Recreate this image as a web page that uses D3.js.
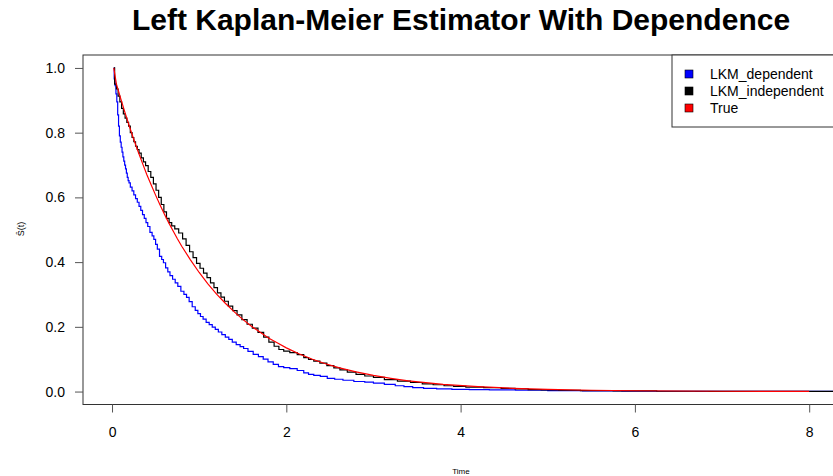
<!DOCTYPE html>
<html>
<head>
<meta charset="utf-8">
<script src="https://cdn.jsdelivr.net/npm/d3@7"></script>
<style>
  body { margin: 0; background: #fff; }
  svg { display: block; font-family: "Liberation Sans", Arial, sans-serif; }
</style>
</head>
<body>
<div id="chart"></div>
<script>
// values: [time, survival]
var lkmDependent = [
  [0.02,1.0],[0.03,0.966],[0.04,0.945],[0.05,0.92],[0.06,0.895],[0.07,0.855],[0.08,0.82],[0.09,0.79],
  [0.10,0.771],[0.11,0.755],[0.12,0.74],[0.13,0.725],[0.14,0.712],[0.15,0.70],[0.16,0.688],[0.17,0.675],
  [0.18,0.662],[0.19,0.652],[0.20,0.645],[0.22,0.632],[0.24,0.62],[0.26,0.608],[0.28,0.596],[0.30,0.585],
  [0.32,0.572],[0.34,0.56],[0.36,0.547],[0.38,0.535],[0.40,0.522],[0.42,0.51],[0.45,0.492],[0.47,0.481],
  [0.49,0.47],[0.51,0.455],[0.53,0.44],[0.56,0.418],[0.58,0.408],[0.60,0.398],[0.63,0.382],[0.65,0.37],
  [0.68,0.358],[0.71,0.347],[0.74,0.336],[0.77,0.325],[0.81,0.31],[0.84,0.30],[0.87,0.291],[0.90,0.278],
  [0.94,0.262],[0.97,0.251],[1.00,0.241],[1.03,0.232],[1.06,0.224],[1.10,0.214],[1.13,0.207],[1.17,0.199],
  [1.20,0.192],[1.24,0.184],[1.28,0.176],[1.32,0.168],[1.36,0.161],[1.40,0.153],[1.45,0.145],[1.49,0.139],
  [1.53,0.133],[1.59,0.124],[1.65,0.115],[1.71,0.108],[1.76,0.10],[1.82,0.092],[1.88,0.084],[1.94,0.077],
  [2.00,0.074],[2.08,0.071],[2.17,0.065],[2.23,0.058],[2.28,0.053],[2.35,0.05],[2.43,0.047],[2.51,0.041],
  [2.60,0.038],[2.70,0.035],[2.85,0.031],[2.95,0.029],[3.05,0.026],[3.20,0.022],[3.30,0.018],[3.40,0.015],
  [3.50,0.012],[3.65,0.01],[3.80,0.008],[4.00,0.007],[4.20,0.006],[4.46,0.005],[4.80,0.004],[5.20,0.003],
  [5.60,0.002],[6.10,0.001],[7.30,0.0005],[8.50,0.0005]
];

var lkmIndependent = [
  [0.02,1.0],[0.04,0.95],[0.06,0.935],[0.08,0.913],[0.10,0.895],[0.12,0.875],[0.14,0.858],[0.16,0.845],
  [0.18,0.832],[0.20,0.82],[0.22,0.80],[0.24,0.785],[0.26,0.772],[0.28,0.758],[0.30,0.748],[0.32,0.737],
  [0.35,0.722],[0.37,0.71],[0.40,0.698],[0.43,0.68],[0.46,0.662],[0.49,0.642],[0.52,0.622],[0.55,0.60],
  [0.58,0.578],[0.61,0.555],[0.64,0.535],[0.67,0.522],[0.70,0.512],[0.74,0.503],[0.79,0.49],[0.83,0.472],
  [0.87,0.452],[0.91,0.432],[0.95,0.414],[0.99,0.396],[1.03,0.381],[1.07,0.366],[1.11,0.352],[1.15,0.336],
  [1.19,0.321],[1.23,0.305],[1.27,0.292],[1.31,0.279],[1.36,0.264],[1.41,0.25],[1.46,0.237],[1.52,0.222],
  [1.58,0.208],[1.64,0.196],[1.71,0.183],[1.77,0.168],[1.83,0.153],[1.89,0.14],[1.94,0.13],[2.00,0.125],
  [2.08,0.12],[2.17,0.114],[2.23,0.105],[2.28,0.099],[2.35,0.094],[2.42,0.088],[2.51,0.08],[2.58,0.073],
  [2.65,0.067],[2.75,0.06],[2.85,0.053],[2.95,0.048],[3.05,0.044],[3.20,0.037],[3.35,0.032],[3.50,0.028],
  [3.62,0.024],[3.75,0.021],[3.87,0.018],[3.97,0.016],[4.15,0.014],[4.38,0.012],[4.55,0.01],[4.70,0.008],
  [4.85,0.006],[5.00,0.005],[5.25,0.004],[5.50,0.003],[6.00,0.002],[6.50,0.001],[7.20,0.0008],[8.00,0.0005],
  [8.50,0.0005]
];

var trueCurve = [
  [0.02,1.0],[0.05,0.951],[0.1,0.905],[0.15,0.861],[0.2,0.819],[0.25,0.779],[0.3,0.741],[0.35,0.705],
  [0.4,0.670],[0.45,0.638],[0.5,0.607],[0.55,0.577],[0.6,0.549],[0.65,0.522],[0.7,0.497],[0.75,0.472],
  [0.8,0.449],[0.9,0.407],[1.0,0.368],[1.1,0.333],[1.2,0.301],[1.3,0.273],[1.4,0.247],[1.5,0.223],
  [1.6,0.202],[1.7,0.183],[1.8,0.165],[1.9,0.150],[2.0,0.135],[2.15,0.116],[2.3,0.100],[2.45,0.086],
  [2.6,0.074],[2.8,0.061],[3.0,0.050],[3.2,0.041],[3.4,0.033],[3.8,0.022],[4.2,0.015],[4.6,0.010],
  [5.0,0.007],[5.5,0.004],[6.0,0.0025],[7.0,0.001],[8.0,0.0003]
];

var seriesNames = ["LKM_dependent", "LKM_independent", "True"];
var seriesColors = ["#0000ff", "#000000", "#ff0000"];
var xTicks = [0, 2, 4, 6, 8];
var yTicks = [0, 0.2, 0.4, 0.6, 0.8, 1.0];

var W = 833, H = 476;
var plotLeft = 83, plotRight = 839, plotTop = 55, plotBottom = 404.5;

var svg = d3.select("#chart").append("svg")
  .attr("width", W)
  .attr("height", H);

var x = d3.scaleLinear().domain([-0.333, 8.342]).range([plotLeft, plotRight]);
var y = d3.scaleLinear().domain([-0.04, 1.04]).range([plotBottom, plotTop]);

// title
svg.append("text")
  .attr("x", 461).attr("y", 30)
  .attr("text-anchor", "middle")
  .style("font-size", "30px")
  .style("font-weight", "bold")
  .text("Left Kaplan-Meier Estimator With Dependence");

// clip for curves
svg.append("clipPath").attr("id", "plotclip")
  .append("rect")
    .attr("x", plotLeft).attr("y", plotTop)
    .attr("width", plotRight - plotLeft).attr("height", plotBottom - plotTop);

var plot = svg.append("g").attr("clip-path", "url(#plotclip)");

var stepLine = d3.line()
  .x(function (d) { return x(d[0]); })
  .y(function (d) { return y(d[1]); })
  .curve(d3.curveStep);

var smoothLine = d3.line()
  .x(function (d) { return x(d[0]); })
  .y(function (d) { return y(d[1]); });

plot.append("path").datum(lkmDependent)
  .attr("d", stepLine)
  .attr("fill", "none").attr("stroke", seriesColors[0]).attr("stroke-width", 1.2);

plot.append("path").datum(lkmIndependent)
  .attr("d", stepLine)
  .attr("fill", "none").attr("stroke", seriesColors[1]).attr("stroke-width", 1.2);

plot.append("path").datum(trueCurve)
  .attr("d", smoothLine)
  .attr("fill", "none").attr("stroke", seriesColors[2]).attr("stroke-width", 1.2);

// box
svg.append("rect")
  .attr("x", plotLeft).attr("y", plotTop)
  .attr("width", plotRight - plotLeft).attr("height", plotBottom - plotTop)
  .attr("fill", "none").attr("stroke", "#333").attr("stroke-width", 1);

// x axis
var gx = svg.append("g")
  .attr("transform", "translate(0," + plotBottom + ")")
  .call(d3.axisBottom(x).tickValues(xTicks).tickSize(8).tickPadding(15)
    .tickFormat(d3.format("d")));
gx.select(".domain").remove();

// y axis
var gy = svg.append("g")
  .attr("transform", "translate(" + plotLeft + ",0)")
  .call(d3.axisLeft(y).tickValues(yTicks).tickSize(8).tickPadding(10)
    .tickFormat(d3.format(".1f")));
gy.select(".domain").remove();

svg.selectAll(".tick line").attr("stroke", "#555");
svg.selectAll(".tick text")
  .style("font-size", "14px")
  .style("font-family", "Liberation Sans, Arial, sans-serif")
  .attr("fill", "#000");

// axis labels
svg.append("text")
  .attr("x", 461).attr("y", 474)
  .attr("text-anchor", "middle")
  .style("font-size", "8px")
  .text("Time");

svg.append("text")
  .attr("transform", "translate(24,229) rotate(-90)")
  .attr("text-anchor", "middle")
  .style("font-size", "9px")
  .text("Ŝ(t)");

// legend
var legend = svg.append("g");
legend.append("rect")
  .attr("x", 672).attr("y", plotTop)
  .attr("width", 200).attr("height", 127 - plotTop)
  .attr("fill", "#fff").attr("stroke", "#333");

var rowY = [74, 91, 108];
seriesNames.forEach(function (name, i) {
  legend.append("rect")
    .attr("x", 685).attr("y", rowY[i] - 4)
    .attr("width", 8).attr("height", 8)
    .attr("fill", seriesColors[i]).attr("stroke", "#000").attr("stroke-width", 0.6);
  legend.append("text")
    .attr("x", 710).attr("y", rowY[i] + 5)
    .style("font-size", "14px")
    .text(name);
});
</script>
</body>
</html>
